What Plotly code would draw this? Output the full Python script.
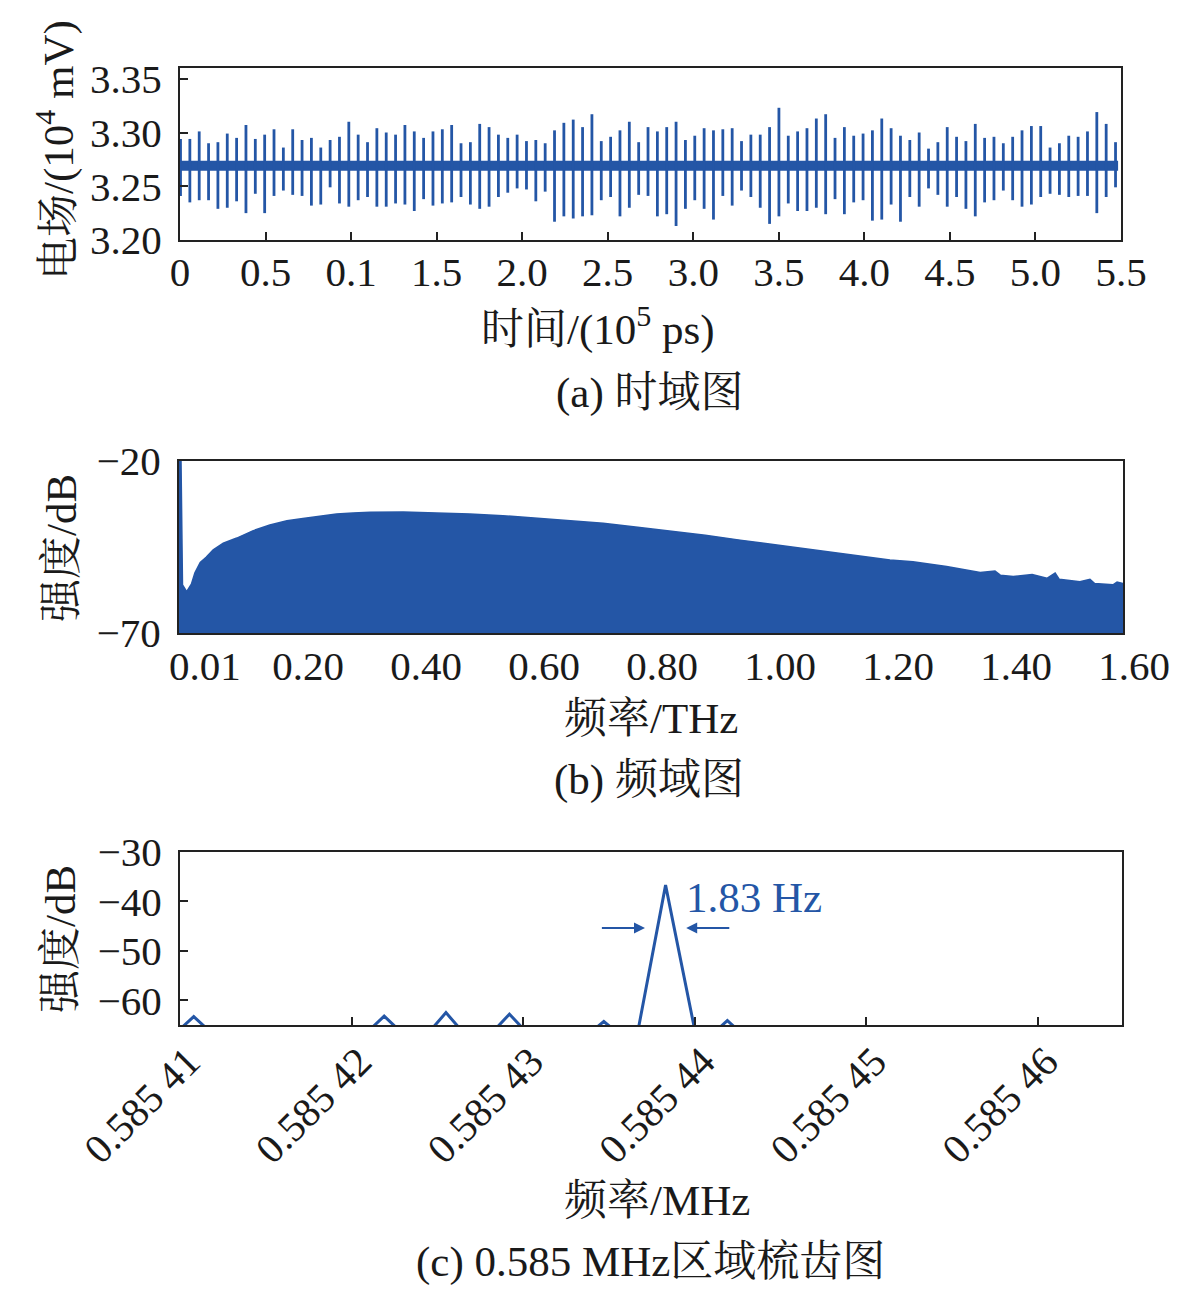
import plotly.graph_objects as go

# ---------------- Panel (a): time domain (10^4 mV vs 10^5 ps) ----------------
pulse_top = [
    3.294, 3.294, 3.301, 3.290, 3.291, 3.299, 3.295, 3.307, 3.294, 3.298,
    3.303, 3.286, 3.303, 3.293, 3.295, 3.286, 3.293, 3.296, 3.310, 3.298,
    3.291, 3.304, 3.300, 3.298, 3.307, 3.301, 3.295, 3.301, 3.303, 3.307,
    3.290, 3.291, 3.308, 3.305, 3.298, 3.295, 3.298, 3.292, 3.293, 3.290,
    3.302, 3.309, 3.312, 3.305, 3.317, 3.292, 3.296, 3.302, 3.310, 3.291,
    3.305, 3.301, 3.305, 3.310, 3.293, 3.297, 3.304, 3.302, 3.303, 3.304,
    3.292, 3.298, 3.298, 3.305, 3.323, 3.297, 3.301, 3.304, 3.313, 3.317,
    3.295, 3.305, 3.297, 3.299, 3.302, 3.313, 3.304, 3.297, 3.293, 3.300,
    3.285, 3.291, 3.305, 3.296, 3.292, 3.308, 3.295, 3.296, 3.290, 3.296,
    3.302, 3.306, 3.306, 3.286, 3.290, 3.297, 3.296, 3.301, 3.319, 3.308,
    3.291,
]
pulse_bottom = [
    3.241, 3.235, 3.237, 3.237, 3.229, 3.230, 3.236, 3.225, 3.243, 3.225,
    3.241, 3.246, 3.242, 3.241, 3.232, 3.233, 3.249, 3.234, 3.231, 3.237,
    3.240, 3.231, 3.231, 3.234, 3.233, 3.227, 3.238, 3.232, 3.234, 3.235,
    3.240, 3.233, 3.229, 3.231, 3.240, 3.244, 3.248, 3.247, 3.236, 3.245,
    3.217, 3.222, 3.220, 3.222, 3.223, 3.237, 3.240, 3.222, 3.230, 3.242,
    3.241, 3.222, 3.224, 3.213, 3.229, 3.237, 3.229, 3.219, 3.241, 3.232,
    3.246, 3.240, 3.230, 3.215, 3.222, 3.234, 3.227, 3.227, 3.230, 3.224,
    3.238, 3.224, 3.235, 3.237, 3.218, 3.219, 3.233, 3.217, 3.240, 3.231,
    3.248, 3.242, 3.231, 3.240, 3.229, 3.222, 3.235, 3.237, 3.246, 3.237,
    3.231, 3.233, 3.240, 3.243, 3.242, 3.240, 3.241, 3.241, 3.225, 3.240,
    3.249,
]
carrier_level = 3.269
pulse_t0 = 0.003
pulse_period = 0.05465
signal_end = 5.483
a_xticks = [0, 0.5, 1.0, 1.5, 2.0, 2.5, 3.0, 3.5, 4.0, 4.5, 5.0, 5.5]
a_xticktext = ["0", "0.5", "0.1", "1.5", "2.0", "2.5", "3.0", "3.5", "4.0", "4.5", "5.0", "5.5"]
a_yticks = [3.20, 3.25, 3.30, 3.35]

# ---------------- Panel (b): spectrum (dB vs THz) ----------------
spec_freq = [
    0.000, 0.0034, 0.0059, 0.013, 0.021, 0.027, 0.036, 0.046, 0.058, 0.075,
    0.098, 0.125, 0.154, 0.183, 0.210, 0.239, 0.267, 0.295, 0.324, 0.380,
    0.437, 0.493, 0.549, 0.606, 0.663, 0.719, 0.781, 0.832, 0.892, 0.951,
    1.036, 1.120, 1.205, 1.244, 1.301, 1.358, 1.383, 1.392, 1.414, 1.446,
    1.471, 1.485, 1.492, 1.527, 1.544, 1.552, 1.583, 1.590, 1.600,
]
spec_db = [
    -20.0, -20.0, -56.0, -58.0, -55.8, -52.5, -49.5, -48.0, -45.8, -43.9,
    -42.4, -40.3, -38.6, -37.4, -36.7, -36.0, -35.4, -35.1, -34.9, -34.8,
    -35.0, -35.4, -35.9, -36.6, -37.3, -38.1, -39.3, -40.3, -41.6, -43.0,
    -44.9, -46.7, -48.8, -49.3, -50.7, -52.4, -52.0, -53.2, -53.6, -53.0,
    -54.1, -52.6, -54.4, -55.1, -54.4, -55.6, -56.0, -55.2, -55.6,
]
spec_floor = -70
b_xticks = [0.025, 0.2, 0.4, 0.6, 0.8, 1.0, 1.2, 1.4, 1.6]
b_xticktext = ["0.01", "0.20", "0.40", "0.60", "0.80", "1.00", "1.20", "1.40", "1.60"]
b_yticks = [-70, -20]

# ---------------- Panel (c): comb line near 0.585 MHz (dB vs MHz) ----------------
comb_freq = [
    0.5854098, 0.5854108, 0.5854118,
    0.5854209, 0.5854219, 0.5854229,
    0.5854245, 0.5854255, 0.5854265,
    0.5854282, 0.5854292, 0.5854302,
    0.5854341, 0.5854347, 0.5854353,
    0.5854367, 0.5854383, 0.5854400,
    0.5854413, 0.5854419, 0.5854425,
    0.5854660,
]
comb_db = [
    -66.5, -63.3, -66.5,
    -66.5, -63.2, -66.5,
    -66.5, -62.5, -66.5,
    -66.5, -62.8, -66.5,
    -66.0, -64.3, -66.0,
    -66.0, -36.7, -66.0,
    -66.0, -64.1, -66.0,
    -66.0,
]
c_xticks = [0.58541, 0.58542, 0.58543, 0.58544, 0.58545, 0.58546]
c_xticktext = ["0.585 41", "0.585 42", "0.585 43", "0.585 44", "0.585 45", "0.585 46"]
c_yticks = [-30, -40, -50, -60]
linewidth_label = "1.83 Hz"

# ---------------- styling / layout ----------------
W, H = 1181, 1291
OFF = 8  # page body margin added by the browser
BLUE = "#2456a6"
INK = "#1a1a1a"
FONT = "Liberation Serif, Noto Serif CJK SC, Noto Sans CJK SC, serif"
TICKFONT = dict(family=FONT, size=41, color=INK)


def pxx(x):
    return (x - OFF) / W


def pxy(y):
    return 1 - (y - OFF) / H


fig = go.Figure()

# (a) carrier band + pulses
fig.add_trace(go.Scatter(x=[0, signal_end], y=[carrier_level, carrier_level], mode="lines",
                         line=dict(color=BLUE, width=10), xaxis="x", yaxis="y",
                         showlegend=False, hoverinfo="skip"))
px_list, py_list = [], []
for i, (top, bot) in enumerate(zip(pulse_top, pulse_bottom)):
    t = pulse_t0 + i * pulse_period
    px_list += [t, t, None]
    py_list += [bot, top, None]
fig.add_trace(go.Scatter(x=px_list, y=py_list, mode="lines",
                         line=dict(color=BLUE, width=2.8), xaxis="x", yaxis="y",
                         showlegend=False, hoverinfo="skip"))

# (b) filled spectrum
fig.add_trace(go.Scatter(x=spec_freq, y=[spec_floor] * len(spec_freq), mode="lines",
                         line=dict(color=BLUE, width=0), xaxis="x2", yaxis="y2",
                         showlegend=False, hoverinfo="skip"))
fig.add_trace(go.Scatter(x=spec_freq, y=spec_db, mode="lines", fill="tonexty",
                         fillcolor=BLUE, line=dict(color=BLUE, width=1.5),
                         xaxis="x2", yaxis="y2", showlegend=False))

# (c) comb line
fig.add_trace(go.Scatter(x=comb_freq, y=comb_db, mode="lines",
                         line=dict(color=BLUE, width=3), xaxis="x3", yaxis="y3",
                         showlegend=False))

frame = dict(showline=True, linecolor="#222222", linewidth=2, mirror=True,
             showgrid=False, zeroline=False, tickfont=TICKFONT, automargin=False)

fig.update_layout(
    template="none",
    width=W, height=H, autosize=False,
    margin=dict(l=0, r=0, t=0, b=0, pad=0),
    paper_bgcolor="white", plot_bgcolor="white",
    font=dict(family=FONT, color=INK),
    showlegend=False,
    xaxis=dict(domain=[pxx(180), pxx(1121)], anchor="y", range=[0, 5.5],
               tickvals=a_xticks, ticktext=a_xticktext, ticks="inside",
               ticklen=8, tickwidth=2, tickcolor="#222222", ticklabelstandoff=-5, **frame),
    yaxis=dict(domain=[pxy(240), pxy(68)], anchor="x", range=[3.20, 3.36],
               tickvals=a_yticks, tickformat=".2f", ticks="inside",
               ticklen=8, tickwidth=2, tickcolor="#222222", ticklabelstandoff=8, **frame),
    xaxis2=dict(domain=[pxx(179), pxx(1123)], anchor="y2", range=[0, 1.6],
                tickvals=b_xticks, ticktext=b_xticktext, ticks="",
                ticklabelshift=11, ticklabelstandoff=-4, **frame),
    yaxis2=dict(domain=[pxy(633), pxy(461)], anchor="x2", range=[-70, -20],
                tickvals=b_yticks, ticks="", ticklabelstandoff=8, **frame),
    xaxis3=dict(domain=[pxx(180), pxx(1122)], anchor="y3", range=[0.58541, 0.5854649],
                tickvals=c_xticks, ticktext=c_xticktext, ticks="inside", tickangle=-45,
                ticklen=8, tickwidth=2, tickcolor="#222222", ticklabelstandoff=-6,
                ticklabelshift=8, **frame),
    yaxis3=dict(domain=[pxy(1025), pxy(852)], anchor="x3", range=[-65, -30],
                tickvals=c_yticks, ticks="inside",
                ticklen=8, tickwidth=2, tickcolor="#222222", ticklabelstandoff=8, **frame),
)

TF = dict(family=FONT, size=43, color=INK)
texts = [
    ("电场/(10<sup>4</sup> mV)", 55, 150, -90),
    ("时间/(10<sup>5</sup> ps)", 598, 326, 0),
    ("(a) 时域图", 649, 393, 0),
    ("强度/dB", 61, 548, -90),
    ("频率/THz", 651, 718, 0),
    ("(b) 频域图", 649, 780, 0),
    ("强度/dB", 60, 939, -90),
    ("频率/MHz", 657, 1200, 0),
    ("(c) 0.585 MHz区域梳齿图", 650, 1262, 0),
]
for txt, x, y, ang in texts:
    fig.add_annotation(text=txt, x=pxx(x), y=pxy(y), xref="paper", yref="paper",
                       showarrow=False, textangle=ang, font=TF,
                       xanchor="center", yanchor="middle")

# (c) linewidth arrows and label
arrow_y = -45.4
fig.add_annotation(x=0.5854371, y=arrow_y, ax=0.5854345, ay=arrow_y,
                   xref="x3", yref="y3", axref="x3", ayref="y3", text="",
                   showarrow=True, arrowhead=2, arrowsize=1.1, arrowwidth=2, arrowcolor=BLUE)
fig.add_annotation(x=0.5854395, y=arrow_y, ax=0.5854421, ay=arrow_y,
                   xref="x3", yref="y3", axref="x3", ayref="y3", text="",
                   showarrow=True, arrowhead=2, arrowsize=1.1, arrowwidth=2, arrowcolor=BLUE)
fig.add_annotation(x=0.5854394, y=-39.3, xref="x3", yref="y3", text=linewidth_label,
                   showarrow=False, xanchor="left", yanchor="middle",
                   font=dict(family=FONT, size=43, color=BLUE))

fig.write_html("out.html")
